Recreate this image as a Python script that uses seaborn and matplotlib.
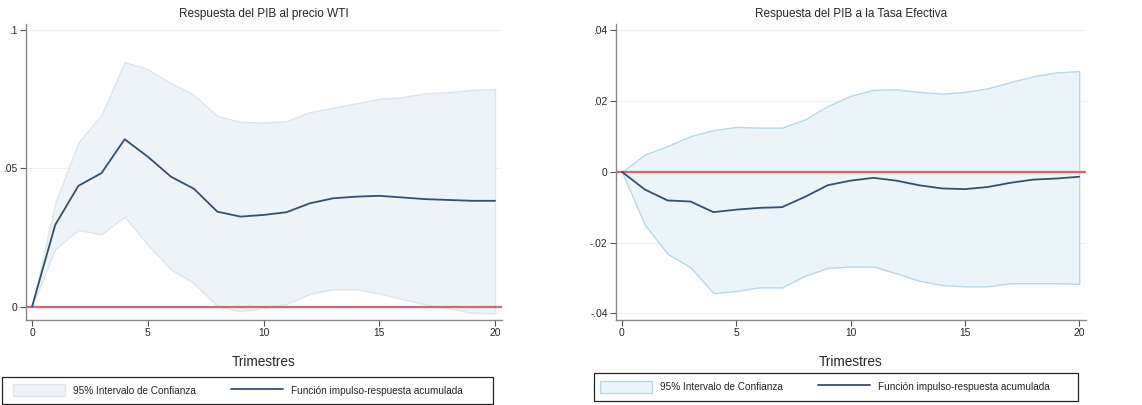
import numpy as np
import pandas as pd
import matplotlib
matplotlib.use("Agg")
import matplotlib.pyplot as plt
import seaborn as sns
from matplotlib.patches import Patch, Rectangle
from matplotlib.lines import Line2D

# ---- data ----
quarters = list(range(21))

wti_irf = [0.0, 0.0295, 0.0436, 0.0482, 0.0604, 0.0541, 0.0469, 0.0425, 0.0343, 0.0325,
           0.0331, 0.0341, 0.0373, 0.0391, 0.0397, 0.0400, 0.0394, 0.0388, 0.0385, 0.0382, 0.0382]
wti_upper = [0.0, 0.0374, 0.0592, 0.0692, 0.0883, 0.0857, 0.0806, 0.0764, 0.0688, 0.0667,
             0.0664, 0.0670, 0.0702, 0.0718, 0.0734, 0.0750, 0.0756, 0.0770, 0.0774, 0.0782, 0.0786]
wti_lower = [0.0, 0.0207, 0.0277, 0.0261, 0.0325, 0.0223, 0.0135, 0.0084, 0.0003, -0.0016,
             -0.0004, 0.0010, 0.0046, 0.0063, 0.0063, 0.0048, 0.0027, 0.0009, -0.0006, -0.0022, -0.0024]

tasa_irf = [0.0, -0.0050, -0.0081, -0.0084, -0.0114, -0.0107, -0.0102, -0.0100, -0.0071, -0.0038,
            -0.0025, -0.0017, -0.0025, -0.0038, -0.0047, -0.0049, -0.0043, -0.0031, -0.0022, -0.0019, -0.0014]
tasa_upper = [0.0, 0.0049, 0.0073, 0.0101, 0.0118, 0.0127, 0.0125, 0.0125, 0.0148, 0.0186,
              0.0215, 0.0232, 0.0233, 0.0226, 0.0221, 0.0226, 0.0236, 0.0254, 0.0270, 0.0281, 0.0285]
tasa_lower = [0.0, -0.0150, -0.0232, -0.0270, -0.0343, -0.0337, -0.0327, -0.0327, -0.0294, -0.0272,
              -0.0268, -0.0268, -0.0287, -0.0308, -0.0320, -0.0324, -0.0324, -0.0315, -0.0315, -0.0315, -0.0317]

titles = ["Respuesta del PIB al precio WTI", "Respuesta del PIB a la Tasa Efectiva"]
xticks = [0, 5, 10, 15, 20]
yticks_left = [0, 0.05, 0.1]
ylabels_left = ["0", ".05", ".1"]
yticks_right = [-0.04, -0.02, 0, 0.02, 0.04]
ylabels_right = ["-.04", "-.02", "0", ".02", ".04"]
legend_labels = ["95% Intervalo de Confianza", "Función impulso-respuesta acumulada"]

sns.set_theme(style="white")
plt.rcParams["font.family"] = ["Liberation Sans", "DejaVu Sans"]

W, H = 1142, 405
fig = plt.figure(figsize=(W / 100, H / 100), dpi=100)
ax1 = fig.add_axes([0.0228, 0.2099, 0.4168, 0.7309])
ax2 = fig.add_axes([0.5394, 0.2099, 0.4116, 0.7309])

line_col = "#35506b"
red_col = "#cf6b6b"
fills = [("#eef3f7", "#dde6ee"), ("#eaf4f9", "#b8d8e6")]

panels = [
    (ax1, wti_irf, wti_upper, wti_lower, yticks_left, ylabels_left, (-0.0048, 0.102)),
    (ax2, tasa_irf, tasa_upper, tasa_lower, yticks_right, ylabels_right, (-0.0419, 0.0418)),
]

for i, (ax, irf, up, lo, yt, yl, ylim) in enumerate(panels):
    df = pd.DataFrame({"t": quarters, "irf": irf, "up": up, "lo": lo})
    fc, ec = fills[i]
    ax.fill_between(df["t"], df["lo"], df["up"], facecolor=fc, edgecolor=ec, linewidth=1.0, zorder=1)
    ax.axhline(0, color=red_col, linewidth=1.6, zorder=2)
    sns.lineplot(data=df, x="t", y="irf", ax=ax, color=line_col, linewidth=1.3, zorder=3)
    for y in yt:
        ax.axhline(y, color="#f0f0f0", linewidth=0.8, zorder=0)
    ax.set_xlim(-0.26, 20.3)
    ax.set_ylim(*ylim)
    ax.set_xticks(xticks)
    ax.set_xticklabels([str(x) for x in xticks], fontsize=7.4)
    ax.set_yticks(yt)
    ax.set_yticklabels(yl, fontsize=7.4)
    ax.tick_params(axis="both", direction="out", length=4, width=0.8, color="#555555", pad=2,
                   left=True, bottom=True)
    for s in ["top", "right"]:
        ax.spines[s].set_visible(False)
    for s in ["left", "bottom"]:
        ax.spines[s].set_color("#888888")
        ax.spines[s].set_linewidth(1.0)
    ax.set_xlabel("Trimestres", fontsize=9.8, labelpad=12)
    ax.set_ylabel("")
    ax.set_title(titles[i], fontsize=8.5, pad=5)

# legends: (handle start x px, box left, box top, box right, box bottom) in pixels
legend_boxes = [
    (13, 2, 376.7, 493, 404.0),
    (600, 594, 372.7, 1078, 400.7),
]
for i, (hx, bl, bt, br, bb) in enumerate(legend_boxes):
    handles = [Patch(facecolor=fills[i][0], edgecolor=fills[i][1]),
               Line2D([0], [0], color=line_col, linewidth=1.3)]
    yc = 1 - ((bt + bb) / 2) / H
    fig.legend(handles, legend_labels, loc="center left", bbox_to_anchor=(hx / W, yc),
               ncol=2, fontsize=7.2, frameon=False, handlelength=5.2, handleheight=1.5,
               handletextpad=0.8, borderaxespad=0, borderpad=0, columnspacing=3.5)
    fig.patches.append(Rectangle((bl / W, 1 - bb / H), (br - bl) / W, (bb - bt) / H,
                                 transform=fig.transFigure, fill=False,
                                 edgecolor="#222222", linewidth=0.9))

fig.savefig("out.png", dpi=100, facecolor="white")
